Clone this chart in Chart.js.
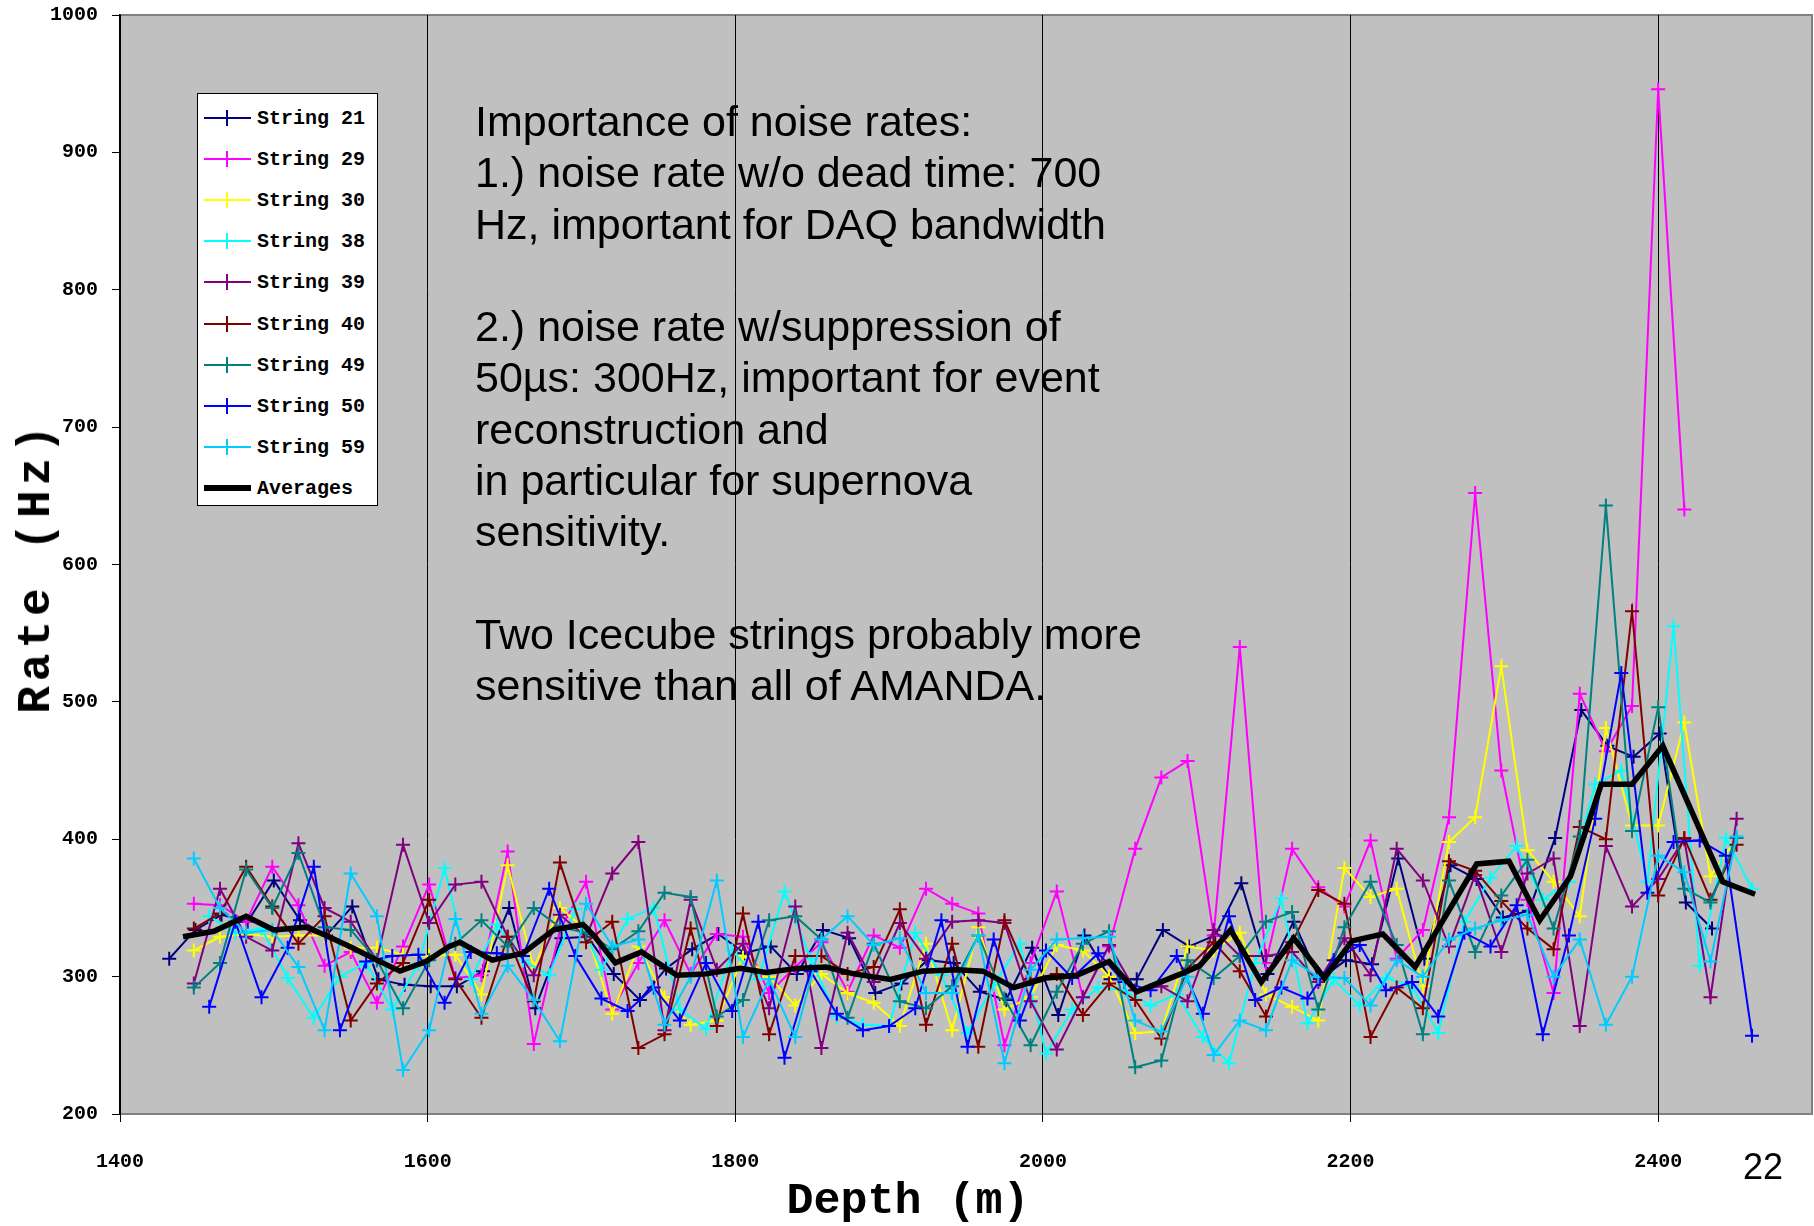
<!DOCTYPE html>
<html>
<head>
<meta charset="utf-8">
<title>Noise rates vs depth</title>
<script src="https://cdn.jsdelivr.net/npm/chart.js"></script>
<style>
    body { margin: 0; background: #fff; }
    #wrap { position: relative; width: 1814px; height: 1226px; overflow: hidden; }
    #chart { position: absolute; left: 0; top: 0; }
    #legend {
        position: absolute; left: 197px; top: 93px; width: 181px; height: 413px;
        background: #fff; border: 1px solid #000; box-sizing: border-box;
    }
    .row { position: absolute; left: 0; width: 100%; height: 41px; }
    .row .ln { position: absolute; left: 6px; width: 47px; top: 50%; }
    .row .mk { position: absolute; left: 28px; width: 2px; height: 16px; top: 50%; margin-top: -8px; }
    .row .tx {
        position: absolute; left: 59px; top: 50%; transform: translateY(-50%);
        font: bold 20px "Liberation Mono", monospace; color: #000; white-space: pre;
    }
    #note {
        position: absolute; left: 475px; top: 96px;
        font: 43px "Liberation Sans", Arial, sans-serif; line-height: 51.3px; color: #000;
        white-space: pre;
    }
    #xtitle {
        position: absolute; left: 908px; top: 1201px; transform: translate(-50%, -50%);
        font: bold 45px "Liberation Mono", monospace; white-space: pre;
    }
    #ytitle {
        position: absolute; left: 37px; top: 567px; transform: translate(-50%, -50%) rotate(-90deg);
        font: bold 46px "Liberation Mono", monospace; letter-spacing: 5px; white-space: pre;
    }
    #page {
        position: absolute; left: 1743px; top: 1146px;
        font: 36px "Liberation Sans", Arial, sans-serif;
    }
</style>
</head>
<body>
<div id="wrap">
    <canvas id="chart" width="1814" height="1226"></canvas>
    <div id="legend"></div>
    <div id="note">Importance of noise rates:
1.) noise rate w/o dead time: 700
Hz, important for DAQ bandwidth

2.) noise rate w/suppression of
50µs: 300Hz, important for event
reconstruction and
in particular for supernova
sensitivity.

Two Icecube strings probably more
sensitive than all of AMANDA.</div>
    <div id="xtitle">Depth (m)</div>
    <div id="ytitle">Rate (Hz)</div>
    <div id="page">22</div>
</div>
<script>
// axis ticks
var xTicks = [1400, 1600, 1800, 2000, 2200, 2400];
var yTicks = [200, 300, 400, 500, 600, 700, 800, 900, 1000];

// module depths (m), three groups of strings
var depthA = [1432,1449,1466,1483,1500,1517,1534,1551,1568,1585,1602,1619,1636,1653,1670,1687,1704,1721,1738,1755,
    1772,1789,1806,1823,1840,1857,1874,1891,1908,1925,1942,1959,1976,1993,2010,2027,2044,2061,2078,2095,
    2112,2129,2146,2163,2180,2197,2214,2231,2248,2265,2282,2299,2316,2333,2350,2367,2384,2401,2418,2435];
var depthB = [1448,1465,1482,1499,1516,1533,1550,1567,1584,1601,1618,1635,1652,1669,1686,1703,1720,1737,1754,1771,
    1788,1805,1822,1839,1856,1873,1890,1907,1924,1941,1958,1975,1992,2009,2026,2043,2060,2077,2094,2111,
    2128,2145,2162,2179,2196,2213,2230,2247,2264,2281,2298,2315,2332,2349,2366,2383,2400,2417,2434,2451];
var depthC = [1458,1475,1492,1509,1526,1543,1560,1577,1594,1611,1628,1645,1662,1679,1696,1713,1730,1747,1764,1781,
    1798,1815,1832,1849,1866,1883,1900,1917,1934,1951,1968,1985,2002,2019,2036,2053,2070,2087,2104,2121,
    2138,2155,2172,2189,2206,2223,2240,2257,2274,2291,2308,2325,2342,2359,2376,2393,2410,2427,2444,2461];

// noise rates (Hz) per string
var s21 = [313,334,345,340,370,341,330,351,298,294,293,293,304,350,277,328,329,302,283,306,
    320,331,317,322,302,334,328,288,295,312,310,289,283,321,272,330,298,298,334,322,
    330,368,302,340,298,312,309,386,313,381,371,343,348,401,494,468,460,477,354,335];
var s29 = [353,352,340,380,352,308,318,281,322,367,299,301,391,251,334,369,276,310,341,302,
    331,329,288,307,325,289,330,321,364,353,346,250,310,362,285,322,393,445,457,330,
    540,310,393,365,351,399,313,334,416,652,450,356,288,506,464,497,946,640];
var s30 = [319,329,331,329,330,330,321,321,316,315,316,287,381,306,350,334,273,322,285,265,
    268,315,300,279,302,288,281,264,324,261,336,276,285,323,319,300,259,260,322,319,
    332,287,278,268,379,358,364,293,398,416,526,392,369,344,481,410,410,485,373,401];
var s38 = [344,332,335,299,270,300,310,276,309,379,298,338,312,301,349,305,342,350,276,262,
    319,298,362,313,271,265,264,332,301,259,294,324,244,276,292,290,279,287,256,237,
    310,357,266,298,279,299,293,259,340,372,395,356,369,440,450,369,555,308,401,364];
var s39 = [295,364,329,319,397,350,340,312,396,339,367,369,329,301,345,329,375,398,261,356,
    305,324,277,351,248,332,296,339,313,340,341,339,282,247,285,323,290,293,282,334,
    315,315,318,296,328,301,393,370,322,374,318,375,386,264,395,351,371,400,285,415];
var s40 = [335,346,380,351,324,344,268,295,310,356,298,270,329,282,383,325,340,248,258,335,
    264,346,258,315,315,302,307,349,265,324,249,341,298,302,272,295,283,255,306,325,
    304,271,325,363,353,256,292,277,384,377,355,335,320,409,400,566,359,401,356,396];
var s49 = [292,310,378,350,390,336,334,312,277,312,324,341,322,350,336,332,320,333,361,358,
    271,283,341,344,327,270,324,282,277,293,330,284,250,289,324,333,234,239,312,299,
    315,340,347,276,336,369,323,258,370,318,359,385,335,402,643,406,496,364,354,401];
var s50 = [278,340,285,321,380,261,311,315,316,281,318,317,315,364,315,284,275,292,268,310,
    275,340,241,304,273,261,264,277,341,249,327,268,319,299,317,296,290,315,273,344,
    283,292,284,312,323,290,296,271,332,322,352,258,330,415,521,361,398,399,388,257];
var s59 = [386,350,332,334,307,261,375,344,232,261,342,273,308,283,253,353,322,327,265,300,
    370,256,298,256,327,344,323,328,288,288,330,237,305,327,328,329,268,260,300,243,
    268,261,312,300,299,279,312,300,327,335,341,345,300,327,265,300,388,376,311,402];

// averages over all strings
var avgDepth = [1441,1461,1482,1500,1521,1534,1551,1567,1582,1599,1614,1621,1642,1662,1682,1701,1708,1722,1739,1762,
    1781,1803,1820,1840,1859,1877,1901,1922,1944,1961,1981,2002,2022,2043,2061,2094,2102,2122,2142,2163,
    2183,2201,2221,2242,2282,2303,2323,2343,2363,2383,2403,2442,2463];
var avgRate = [329,333,344,334,336,330,321,312,304,311,322,325,312,317,334,338,330,310,318,301,
    302,306,303,306,307,302,298,304,305,304,292,299,301,311,289,304,308,334,296,328,
    299,326,331,307,382,384,341,373,440,440,468,369,360];

var names = ['String 21', 'String 29', 'String 30', 'String 38', 'String 39', 'String 40', 'String 49', 'String 50', 'String 59'];
var colors = ['#000080', '#ff00ff', '#ffff00', '#00ffff', '#800080', '#800000', '#008080', '#0000ff', '#00ccff'];
var depths = [depthA, depthB, depthB, depthC, depthB, depthB, depthB, depthC, depthB];
var rates = [s21, s29, s30, s38, s39, s40, s49, s50, s59];

// where the plot frame sits on the page
var frame = { top: 15, bottom: 1114, right: 1812 };

// pair depths with rates
function toPoints(depth, rate) {
    var pts = [];
    for (var i = 0; i < rate.length; i++) {
        pts.push({ x: depth[i], y: rate[i] });
    }
    return pts;
}

// gray plot background and frame
var plotBg = {
    id: 'plotBg',
    beforeDraw: function (chart) {
        var a = chart.chartArea;
        var ctx = chart.ctx;
        ctx.save();
        ctx.fillStyle = '#c0c0c0';
        ctx.fillRect(a.left, a.top, a.right - a.left, a.bottom - a.top);
        ctx.strokeStyle = '#808080';
        ctx.lineWidth = 2;
        ctx.strokeRect(a.left, a.top, a.right - a.left, a.bottom - a.top);
        ctx.restore();
    }
};

var tickFont = { family: 'Liberation Mono', weight: 'bold', size: 20 };
function plainLabel(v) { return String(v); }

function makeConfig() {
    var datasets = [];
    for (var i = 0; i < names.length; i++) {
        datasets.push({
            label: names[i],
            data: toPoints(depths[i], rates[i]),
            borderColor: colors[i],
            backgroundColor: colors[i],
            borderWidth: 2,
            pointStyle: 'cross',
            pointRadius: 7,
            pointBorderWidth: 2,
            order: names.length - i
        });
    }
    datasets.push({
        label: 'Averages',
        data: toPoints(avgDepth, avgRate),
        borderColor: '#000',
        borderWidth: 5.5,
        pointRadius: 0,
        borderJoinStyle: 'miter',
        order: 0
    });

    return {
        type: 'line',
        data: { datasets: datasets },
        options: {
            responsive: false,
            maintainAspectRatio: false,
            animation: false,
            layout: { padding: { top: 6, right: 0, left: 0, bottom: 0 } },
            plugins: { legend: { display: false }, tooltip: { enabled: false } },
            elements: { line: { tension: 0 } },
            scales: {
                x: {
                    type: 'linear', min: 1400, max: 2500,
                    afterBuildTicks: function (s) { s.ticks = xTicks.map(function (v) { return { value: v }; }); },
                    afterFit: function (s) { s.height = 112; },
                    grid: { color: '#000', lineWidth: 1, tickLength: 8 },
                    border: { display: false },
                    ticks: { padding: 28, color: '#000', font: tickFont, maxRotation: 0, autoSkip: false, callback: plainLabel }
                },
                y: {
                    type: 'linear', min: 200, max: 1000,
                    afterBuildTicks: function (s) { s.ticks = yTicks.map(function (v) { return { value: v }; }); },
                    afterFit: function (s) { s.width = 120; },
                    grid: { drawOnChartArea: false, color: '#000', tickLength: 8 },
                    border: { color: '#000', width: 1.5 },
                    ticks: { padding: 14, color: '#000', font: tickFont, autoSkip: false, callback: plainLabel }
                }
            }
        },
        plugins: [plotBg]
    };
}

var canvas = document.getElementById('chart');
var chart = new Chart(canvas, makeConfig());

// redo the chart on a resized, shifted canvas so the plot frame lands where the reference has it
var area = chart.chartArea;
var dTop = area.top - frame.top;
var dBottom = frame.bottom - area.bottom;
var dRight = frame.right - area.right;
if (Math.abs(dTop) > 0.5 || Math.abs(dBottom) > 0.5 || Math.abs(dRight) > 0.5) {
    chart.destroy();
    var w = Math.round(1814 + dRight);
    var h = Math.round(1226 + dTop + dBottom);
    canvas.width = w;
    canvas.height = h;
    canvas.style.width = w + 'px';
    canvas.style.height = h + 'px';
    canvas.style.top = Math.round(-dTop) + 'px';
    chart = new Chart(canvas, makeConfig());
}

// legend box built from the same series
var legend = document.getElementById('legend');
var items = names.concat(['Averages']);
for (var k = 0; k < items.length; k++) {
    var row = document.createElement('div');
    row.className = 'row';
    row.style.top = (3 + k * 41.2) + 'px';
    var isAvg = k === names.length;
    var col = isAvg ? '#000' : colors[k];
    var lw = isAvg ? 6 : 2;
    var html = '<div class="ln" style="height:' + lw + 'px;margin-top:' + (-lw / 2) + 'px;background:' + col + '"></div>';
    if (!isAvg) {
        html += '<div class="mk" style="background:' + col + '"></div>';
    }
    html += '<div class="tx">' + items[k] + '</div>';
    row.innerHTML = html;
    legend.appendChild(row);
}
</script>
</body>
</html>
